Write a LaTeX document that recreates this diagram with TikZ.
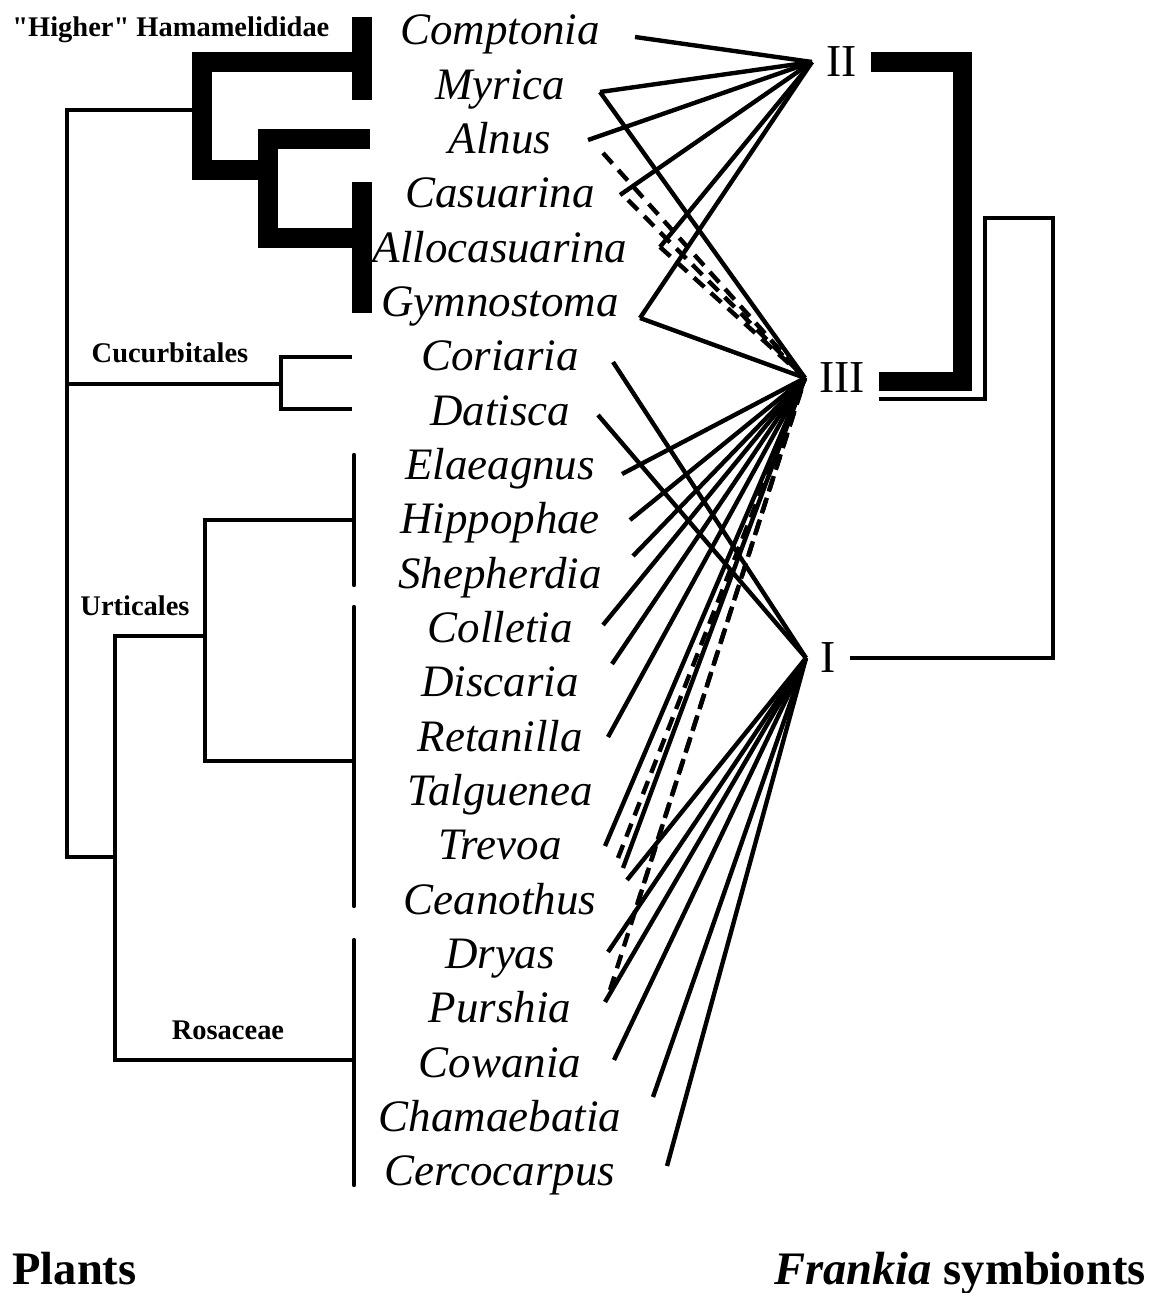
\documentclass[tikz,border=0pt]{standalone}
\usepackage{fontspec}
\setmainfont{Liberation Serif}
\newfontfamily\gerade{Liberation Serif}
\usepackage{tikz}

\begin{document}
\begin{tikzpicture}[x=0.02cm, y=-0.02cm,
  taxon/.style={font=\fontsize{25.6}{30}\selectfont\itshape, anchor=base, inner sep=0pt},
  gruppe/.style={font=\gerade\fontsize{16.2}{19}\selectfont\bfseries, anchor=base, inner sep=0pt},
  titel/.style={font=\fontsize{26.5}{31}\selectfont\bfseries, inner sep=0pt},
  typ/.style={font=\fontsize{26}{30}\selectfont, anchor=west, inner xsep=8pt, inner ysep=0pt},
  ast/.style={line width=2.5pt},
  dick/.style={line width=11pt},
  wirt/.style={line width=2.5pt},
  wirtd/.style={line width=2.5pt, dash pattern=on 8pt off 5pt}]
  \useasboundingbox (0,0) rectangle (1159,1293);

  % Pflanzen
  \foreach \n/\t [count=\i from 0] in {comp/Comptonia, myr/Myrica, aln/Alnus,
      cas/Casuarina, allo/Allocasuarina, gym/Gymnostoma, cor/Coriaria, dat/Datisca,
      ela/Elaeagnus, hip/Hippophae, she/Shepherdia, col/Colletia, dis/Discaria,
      ret/Retanilla, tal/Talguenea, tre/Trevoa, cea/Ceanothus, dry/Dryas,
      pur/Purshia, cow/Cowania, cha/Chamaebatia, cer/Cercocarpus}
    \node[taxon] (\n) at (500,{45+54.33*\i}) {\t};

  % Gruppen
  \node[gruppe, anchor=base west] (hama) at (12,37) {"Higher" Hamamelididae};
  \node[gruppe] (cucu) at (170,363) {Cucurbitales};
  \node[gruppe] (urti) at (135,615) {Urticales};
  \node[gruppe] (rosa) at (228,1039) {Rosaceae};

  % Stammbaum, dicke Aeste
  \draw[dick] (362,17) -- (362,100);
  \draw[dick] (362,62) -- (202,62) -- (202,170) -- (268,170);
  \draw[dick] (370,139) -- (268,139) -- (268,238) -- (362,238);
  \draw[dick] (362,182) -- (362,313);

  % Stammbaum, duenne Aeste
  \draw[ast] (202,110) -- (67,110) -- (67,857) -- (115,857);
  \draw[ast] (67,384) -- (281,384);
  \draw[ast] (352,357) -- (281,357) -- (281,409) -- (352,409);
  \draw[ast, line cap=round] (354,455) -- (354,585);
  \draw[ast, line cap=round] (354,607) -- (354,906);
  \draw[ast, line cap=round] (354,940) -- (354,1185);
  \draw[ast] (354,520) -- (205,520) -- (205,761) -- (354,761);
  \draw[ast] (205,636) -- (115,636) -- (115,1060) -- (354,1060);

  % Frankia-Gruppen
  \node[typ] (II) at (812,62) {II};
  \node[typ] (III) at (805,378) {III};
  \node[typ] (I) at (806,658) {I};
  \draw[dick] (II.east) -- ++(91,0) |- ([yshift=-2pt]III.east);
  \draw[ast] ([yshift=-12pt]III.east) -| (985,218) -| (1053,658) -- (I.east);

  % Enden der Verbindungen
  \foreach \n/\x/\y in {comp-r/635/37, myr-r/600/92, aln-r/588/140, aln-d/603/153,
      cas-r/620/195, cas-d/628/200, allo-r/660/247, gym-r/640/318,
      cor-r/613/362, dat-r/598/415, ela-r/622/474, hip-r/630/520, she-r/633/556,
      col-r/603/625, dis-r/612/664, ret-r/608/737, tal-r/605/846, tre-r/623/868,
      tre-d/618/858, cea-d/637/905, dry-d/610/990, cea-r/627/880, dry-r/608/952,
      pur-r/605/1002, cow-r/614/1060, cha-r/653/1097, cer-r/667/1166}
    \coordinate (\n) at (\x,\y);

  % Verbindungen
  \foreach \n in {comp,myr,aln,cas,allo,gym}
    \draw[wirt] (\n-r) -- (II.west);
  \foreach \n in {myr,gym,ela,hip,she,col,dis,ret,tal,tre}
    \draw[wirt] (\n-r) -- (III.west);
  \foreach \n in {aln-d,cas-d,allo-r,tre-d,cea-d,dry-d}
    \draw[wirtd] (\n) -- (III.west);
  \foreach \n in {cor,dat,cea,dry,pur,cow,cha,cer}
    \draw[wirt] (\n-r) -- (I.west);

  % Beschriftung unten
  \node[titel, anchor=base west] (pflanzen) at (12,1284) {Plants};
  \node[titel, anchor=base east] (frankia) at (1146,1284) {\textit{Frankia} symbionts};
\end{tikzpicture}
\end{document}
